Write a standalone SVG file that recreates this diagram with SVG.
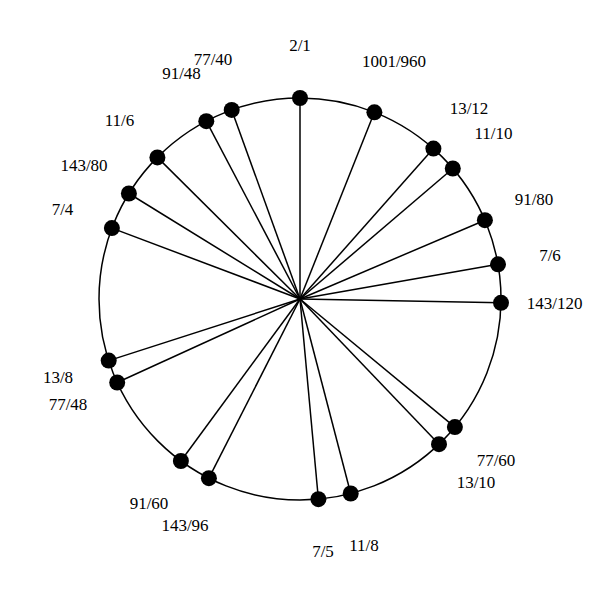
<svg xmlns="http://www.w3.org/2000/svg" width="600" height="600" viewBox="0 0 600 600">
<style>
.ring{fill:none;stroke:#000;stroke-width:1.5}
.spoke{stroke:#000;stroke-width:1.5}
.dot{fill:#000}
.lbl{font-family:"Liberation Serif","Times New Roman",serif;font-size:17px;fill:#000;text-anchor:middle}
</style>
<rect width="600" height="600" fill="#fff"/>
<circle class="ring" cx="300" cy="299" r="201"/>
<g id="connectors">
<line class="spoke" x1="300" y1="299" x2="300" y2="98"/>
<line class="spoke" x1="300" y1="299" x2="374.4" y2="112.3"/>
<line class="spoke" x1="300" y1="299" x2="433.4" y2="148.6"/>
<line class="spoke" x1="300" y1="299" x2="452.8" y2="168.5"/>
<line class="spoke" x1="300" y1="299" x2="484.9" y2="220.2"/>
<line class="spoke" x1="300" y1="299" x2="498.0" y2="264.3"/>
<line class="spoke" x1="300" y1="299" x2="501.0" y2="302.8"/>
<line class="spoke" x1="300" y1="299" x2="454.9" y2="427.1"/>
<line class="spoke" x1="300" y1="299" x2="439.0" y2="444.2"/>
<line class="spoke" x1="300" y1="299" x2="350.7" y2="493.5"/>
<line class="spoke" x1="300" y1="299" x2="318.4" y2="499.2"/>
<line class="spoke" x1="300" y1="299" x2="208.9" y2="478.2"/>
<line class="spoke" x1="300" y1="299" x2="180.9" y2="461.0"/>
<line class="spoke" x1="300" y1="299" x2="117.2" y2="382.5"/>
<line class="spoke" x1="300" y1="299" x2="108.7" y2="360.6"/>
<line class="spoke" x1="300" y1="299" x2="111.9" y2="228.1"/>
<line class="spoke" x1="300" y1="299" x2="128.9" y2="193.5"/>
<line class="spoke" x1="300" y1="299" x2="157.4" y2="157.4"/>
<line class="spoke" x1="300" y1="299" x2="206.3" y2="121.2"/>
<line class="spoke" x1="300" y1="299" x2="231.7" y2="109.9"/>
</g>
<g id="n_2_1"><circle class="dot" cx="300" cy="98" r="8"/><text class="lbl" x="300" y="51">2/1</text></g>
<g id="n_1001_960"><circle class="dot" cx="374.4" cy="112.3" r="8"/><text class="lbl" x="394" y="67">1001/960</text></g>
<g id="n_13_12"><circle class="dot" cx="433.4" cy="148.6" r="8"/><text class="lbl" x="469" y="114">13/12</text></g>
<g id="n_11_10"><circle class="dot" cx="452.8" cy="168.5" r="8"/><text class="lbl" x="493.5" y="139">11/10</text></g>
<g id="n_91_80"><circle class="dot" cx="484.9" cy="220.2" r="8"/><text class="lbl" x="534" y="205">91/80</text></g>
<g id="n_7_6"><circle class="dot" cx="498.0" cy="264.3" r="8"/><text class="lbl" x="550" y="260.5">7/6</text></g>
<g id="n_143_120"><circle class="dot" cx="501.0" cy="302.8" r="8"/><text class="lbl" x="554.7" y="309">143/120</text></g>
<g id="n_77_60"><circle class="dot" cx="454.9" cy="427.1" r="8"/><text class="lbl" x="496" y="466">77/60</text></g>
<g id="n_13_10"><circle class="dot" cx="439.0" cy="444.2" r="8"/><text class="lbl" x="476" y="488">13/10</text></g>
<g id="n_11_8"><circle class="dot" cx="350.7" cy="493.5" r="8"/><text class="lbl" x="364" y="550.5">11/8</text></g>
<g id="n_7_5"><circle class="dot" cx="318.4" cy="499.2" r="8"/><text class="lbl" x="323" y="557">7/5</text></g>
<g id="n_143_96"><circle class="dot" cx="208.9" cy="478.2" r="8"/><text class="lbl" x="185" y="531">143/96</text></g>
<g id="n_91_60"><circle class="dot" cx="180.9" cy="461.0" r="8"/><text class="lbl" x="149" y="509">91/60</text></g>
<g id="n_77_48"><circle class="dot" cx="117.2" cy="382.5" r="8"/><text class="lbl" x="68" y="410">77/48</text></g>
<g id="n_13_8"><circle class="dot" cx="108.7" cy="360.6" r="8"/><text class="lbl" x="58" y="382.5">13/8</text></g>
<g id="n_7_4"><circle class="dot" cx="111.9" cy="228.1" r="8"/><text class="lbl" x="62.5" y="215">7/4</text></g>
<g id="n_143_80"><circle class="dot" cx="128.9" cy="193.5" r="8"/><text class="lbl" x="84" y="171">143/80</text></g>
<g id="n_11_6"><circle class="dot" cx="157.4" cy="157.4" r="8"/><text class="lbl" x="119.5" y="126">11/6</text></g>
<g id="n_91_48"><circle class="dot" cx="206.3" cy="121.2" r="8"/><text class="lbl" x="181.5" y="79">91/48</text></g>
<g id="n_77_40"><circle class="dot" cx="231.7" cy="109.9" r="8"/><text class="lbl" x="213" y="65">77/40</text></g>
</svg>
